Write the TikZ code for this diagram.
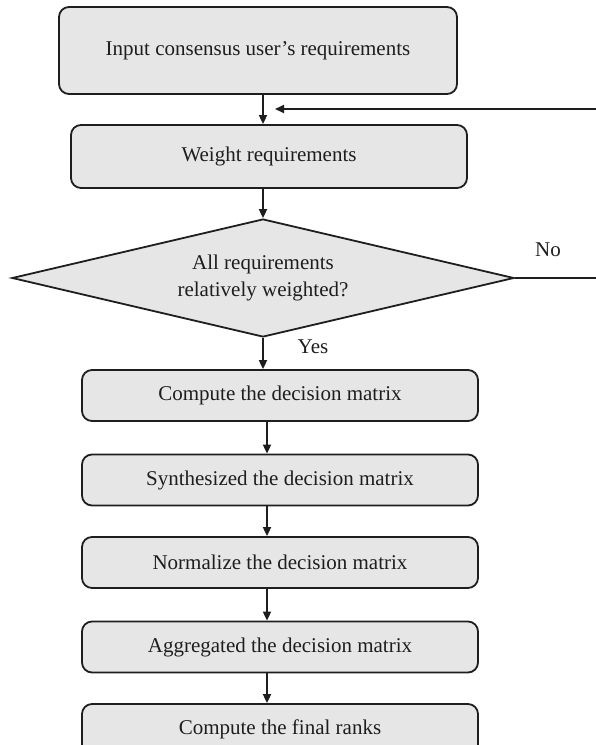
\documentclass[tikz,border=0pt]{standalone}
\usepackage{fontspec}
\setmainfont{Liberation Serif}
\usetikzlibrary{arrows.meta,shapes.geometric}
\definecolor{boxfill}{RGB}{230,230,230}
\definecolor{inkc}{RGB}{30,30,30}
\begin{document}
\begin{tikzpicture}[x=1pt,y=-1pt,
  every node/.style={font=\fontsize{21}{27}\selectfont, text=inkc},
  procbox/.style={draw=inkc, line width=1.8pt, fill=boxfill, rounded corners=10pt,
    minimum width=396pt, minimum height=51pt, inner sep=0pt, align=center},
  decbox/.style={draw=inkc, line width=1.8pt, fill=boxfill, diamond, aspect=4.25,
    minimum width=502pt, minimum height=118pt, inner sep=0pt, align=center},
  arr/.style={draw=inkc, line width=1.8pt, -{Triangle[length=9pt,width=8pt]}},
  plainline/.style={draw=inkc, line width=1.8pt}]
\useasboundingbox (0,0) rectangle (596,745);
% nodes
\node[procbox, minimum width=398pt, minimum height=87pt] (b1) at (258,50.5) {Input consensus user’s requirements};
\node[procbox, minimum height=63pt] (b2) at (269,156.5) {Weight requirements};
\node[decbox] (dia) at (263,278) {All requirements\\relatively weighted?};
\node[procbox] (b3) at (280,395.5) {Compute the decision matrix};
\node[procbox] (b4) at (280,480) {Synthesized the decision matrix};
\node[procbox] (b5) at (280,562.5) {Normalize the decision matrix};
\node[procbox] (b6) at (280,647) {Aggregated the decision matrix};
\node[procbox] (b7) at (280,729.5) {Compute the final ranks};
\node (no) at (548,250) {No};
\node (yes) at (313,347) {Yes};
% helper coordinates
\coordinate (colA) at (263,0);
\coordinate (colB) at (267,0);
\coordinate (fbend) at (275,109);
\coordinate (fbcorner) at (604,278);
% connectors
\draw[arr] (b1.south -| colA) -- (b2.north -| colA);
\draw[arr] (b2.south -| colA) -- (dia.north);
\draw[arr] (dia.south) -- (b3.north -| dia.south);
\draw[arr] (b3.south -| colB) -- (b4.north -| colB);
\draw[arr] (b4.south -| colB) -- (b5.north -| colB);
\draw[arr] (b5.south -| colB) -- (b6.north -| colB);
\draw[arr] (b6.south -| colB) -- (b7.north -| colB);
\draw[arr] (dia.east) -- (fbcorner) |- (fbend);
\end{tikzpicture}
\end{document}
